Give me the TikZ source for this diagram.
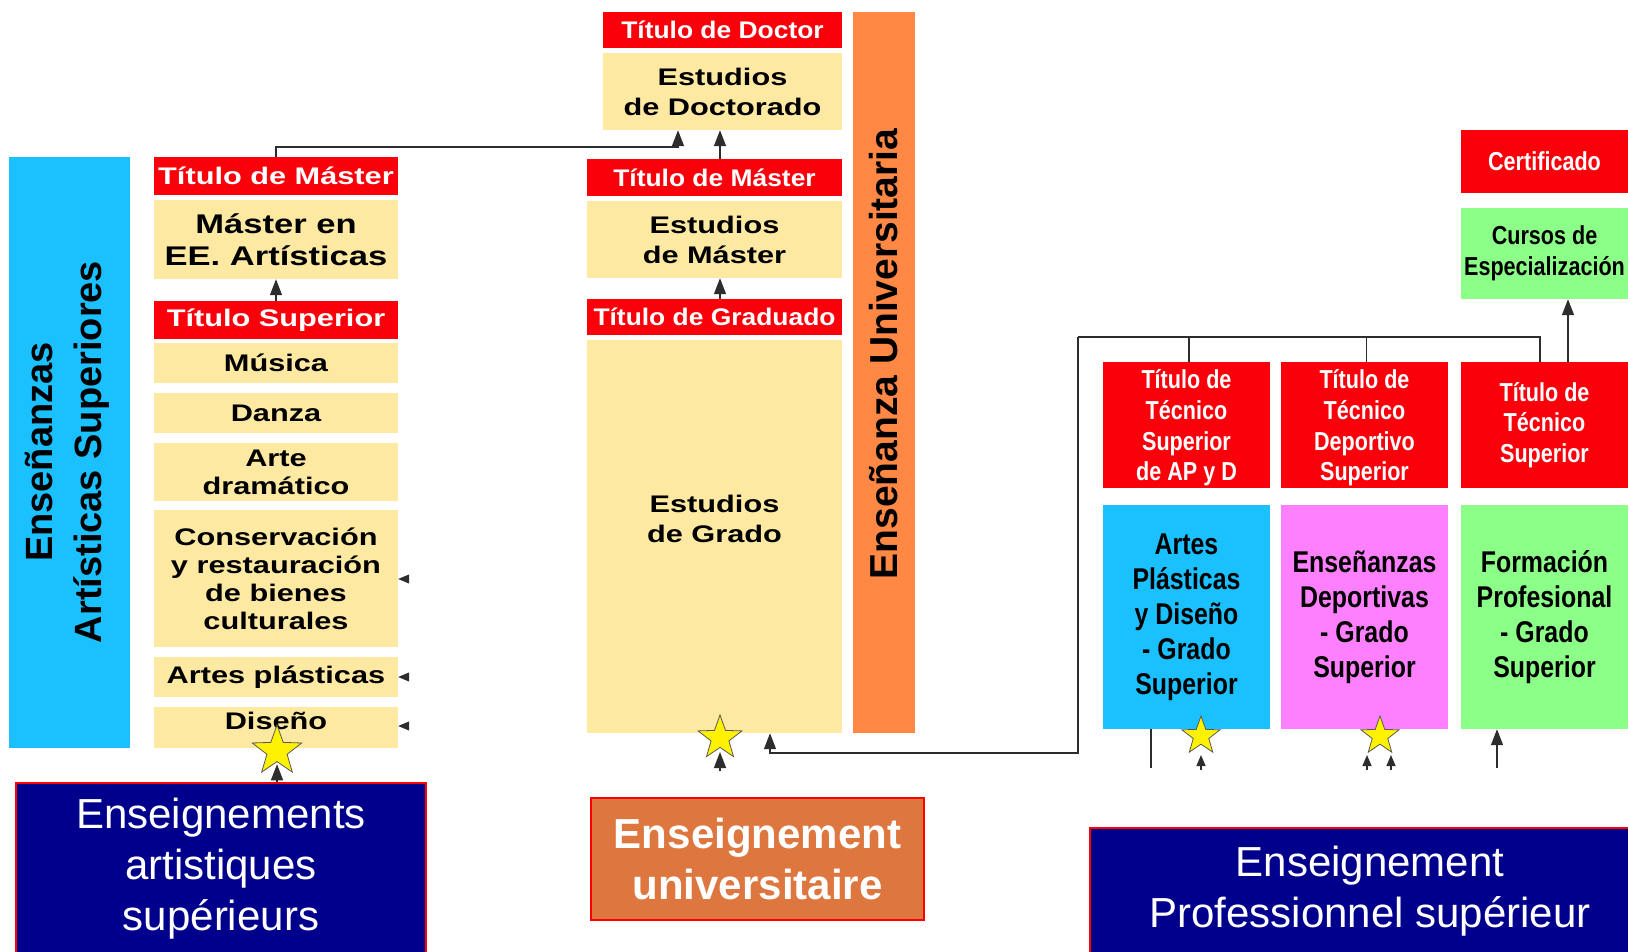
\documentclass[tikz,border=0pt]{standalone}
\usepackage{fontspec}
\setmainfont{Liberation Sans}
\newfontfamily\widef[FakeStretch=1.28]{Liberation Sans}
\newfontfamily\midf[FakeStretch=1.1]{Liberation Sans}
\newfontfamily\narf[FakeStretch=0.83]{Liberation Sans}
\usetikzlibrary{arrows.meta,shapes.geometric}
\definecolor{tred}{RGB}{250,0,10}
\definecolor{tyel}{RGB}{253,233,162}
\definecolor{tblue}{RGB}{27,193,255}
\definecolor{torange}{RGB}{255,136,68}
\definecolor{tpink}{RGB}{255,128,255}
\definecolor{tgreen}{RGB}{140,255,136}
\definecolor{tnavy}{RGB}{0,0,140}
\definecolor{tbrown}{RGB}{222,119,63}
\definecolor{tline}{RGB}{45,45,45}
\begin{document}
\begin{tikzpicture}[x=1pt,y=-1pt,
  boxbase/.style={rectangle, inner sep=0pt, align=center},
  redL/.style={boxbase, fill=tred, text=white, font={\widef\bfseries\fontsize{24}{28}\selectfont}},
  redM/.style={boxbase, fill=tred, text=white, font={\midf\bfseries\fontsize{24}{28}\selectfont}},
  yelL/.style={boxbase, fill=tyel, text=black, font={\widef\bfseries\fontsize{24}{28}\selectfont}},
  yelM/.style={boxbase, fill=tyel, text=black, font={\widef\bfseries\fontsize{24}{30}\selectfont}},
  redR/.style={boxbase, fill=tred, text=white, font={\narf\bfseries\fontsize{26}{30.7}\selectfont}},
  colR/.style={boxbase, text=black, font={\narf\bfseries\fontsize{30}{35}\selectfont}},
  vtext/.style={inner sep=0pt, align=center, rotate=90, font={\bfseries\fontsize{39}{48}\selectfont}},
  bigbox/.style={rectangle, inner sep=0pt, align=center, draw=red, line width=1.5pt, text=white},
  ystar/.style={star, star points=5, star point ratio=2.45, fill=yellow, draw=black!65, line width=0.8pt, minimum size=#1, inner sep=0pt},
  conn/.style={draw=tline, line width=1.4pt},
  arr/.style={-{Triangle[length=16pt,width=12pt]}},
  tip/.style={-{Triangle[length=11pt,width=9pt]}}
]
\useasboundingbox (0,0) rectangle (1628,951);
\fill[white] (0,0) rectangle (1628,951);

% ---------- left column ----------
\node[boxbase, fill=tblue, minimum width=121pt, minimum height=591pt] (blueL) at (69.5,452.5) {};
\node[vtext, font={\bfseries\fontsize{38}{49}\selectfont}] (blueT) at (67,452) {Enseñanzas\\Artísticas Superiores};

\node[redL, minimum width=244pt, minimum height=38pt] (lmt) at (276,176) {Título de Máster};
\node[yelL, font={\widef\bfseries\fontsize{27}{32}\selectfont}, minimum width=244pt, minimum height=79pt] (lme) at (276,239.5) {Máster en\\EE. Artísticas};
\node[redL, minimum width=244pt, minimum height=38pt] (lts) at (276,320) {Título Superior};
\node[yelL, minimum width=244pt, minimum height=40pt] (mus) at (276,363) {Música};
\node[yelL, minimum width=244pt, minimum height=40pt] (dan) at (276,413) {Danza};
\node[yelL, minimum width=244pt, minimum height=58pt] (arte) at (276,472) {Arte\\dramático};
\node[yelL, minimum width=244pt, minimum height=137pt] (cons) at (276,578.5) {Conservación\\y restauración\\de bienes\\culturales};
\node[yelL, minimum width=244pt, minimum height=40pt] (artp) at (276,677) {Artes plásticas};
\node[yelL, minimum width=244pt, minimum height=41pt] (dis) at (276,727.5) {\raisebox{13pt}{Diseño}};

\draw[conn, arr] (lts.north) -- (lme.south);

% small arrowheads at right of left column
\coordinate (ka) at (409,579);
\coordinate (kb) at (409,677);
\coordinate (kc) at (409,726);
\draw[conn, line width=0.8pt, tip] (ka) -- (ka -| cons.east);
\draw[conn, line width=0.8pt, tip] (kb) -- (kb -| artp.east);
\draw[conn, line width=0.8pt, tip] (kc) -- (kc -| dis.east);

% bottom-left box
\node[bigbox, fill=tnavy, minimum width=410pt, minimum height=172pt, font={\fontsize{42}{51}\selectfont}] (ensA) at (221,869) {Enseignements\\artistiques\\supérieurs};
\draw[conn, arr] ([xshift=56pt]ensA.north) -- ++(0,-18);
\node[ystar=52pt] (starA) at (277,751) {};

% ---------- middle column ----------
\node[redM, minimum width=239pt, minimum height=36pt] (tdoc) at (722.5,30) {Título de Doctor};
\node[yelM, minimum width=239pt, minimum height=77pt] (edoc) at (722.5,91.5) {Estudios\\de Doctorado};
\node[redM, minimum width=255pt, minimum height=37pt] (tmas) at (714.5,177.5) {Título de Máster};
\node[yelM, minimum width=255pt, minimum height=77pt] (emas) at (714.5,239.5) {Estudios\\de Máster};
\node[redM, minimum width=255pt, minimum height=36pt] (tgra) at (714.5,317) {Título de Graduado};
\node[boxbase, fill=tyel, minimum width=255pt, minimum height=393pt] (egra) at (714.5,536.5) {};
\node[yelM, fill=none] (egraT) at (714.5,519) {Estudios\\de Grado};

\node[boxbase, fill=torange, minimum width=62pt, minimum height=721pt] (ubar) at (884,372.5) {};
\node[vtext] (ubarT) at (884,354) {Enseñanza Universitaria};

\draw[conn, arr] ([xshift=5.5pt]tmas.north) -- ([xshift=5.5pt]tmas.north |- edoc.south);
\draw[conn, arr] ([xshift=5.5pt]tgra.north) -- ([xshift=5.5pt]tgra.north |- emas.south);
\draw[conn, arr] (lmt.north) -- ++(0,-10) -| ([xshift=-44.5pt]edoc.south);

\node[bigbox, fill=tbrown, minimum width=333pt, minimum height=122pt, font={\bfseries\fontsize{42}{51}\selectfont}] (ensU) at (757.5,859) {Enseignement\\universitaire};
\coordinate (sm) at (720,771);
\draw[conn, arr] (sm) -- ++(0,-19);
\node[ystar=46pt] (starM) at (720,738) {};

% ---------- right column ----------
\node[redR, minimum width=167pt, minimum height=63pt] (cert) at (1544.5,161.5) {Certificado};
\node[colR, fill=tgreen, font={\narf\bfseries\fontsize{26}{30.7}\selectfont}, minimum width=167pt, minimum height=91pt] (curs) at (1544.5,253.5) {Cursos de\\Especialización};

\node[redR, minimum width=167pt, minimum height=126pt] (tap) at (1186.5,425) {};
\node[redR, fill=none] (tapT) at (1186.5,428) {Título de\\Técnico\\Superior\\de AP y D};
\node[redR, minimum width=167pt, minimum height=126pt] (tdep) at (1364.5,425) {};
\node[redR, fill=none] (tdepT) at (1364.5,428) {Título de\\Técnico\\Deportivo\\Superior};
\node[redR, minimum width=167pt, minimum height=126pt] (tfp) at (1544.5,425) {Título de\\Técnico\\Superior};

\node[colR, fill=tblue, minimum width=167pt, minimum height=224pt] (cap) at (1186.5,617) {Artes\\Plásticas\\y Diseño\\- Grado\\Superior};
\node[colR, fill=tpink, minimum width=167pt, minimum height=224pt] (cdep) at (1364.5,617) {Enseñanzas\\Deportivas\\- Grado\\Superior};
\node[colR, fill=tgreen, minimum width=167pt, minimum height=224pt] (cfp) at (1544.5,617) {Formación\\Profesional\\- Grado\\Superior};

\coordinate (jn) at (1078,337);
\coordinate (jb) at (1078,753);
\draw[conn] ([xshift=-4.5pt]tfp.north) |- (jn);
\draw[conn] ([xshift=2.5pt]tap.north) -- ([xshift=2.5pt]tap.north |- jn);
\draw[conn] ([xshift=2pt]tdep.north) -- ([xshift=2pt]tdep.north |- jn);
\draw[conn, arr] (jn) -- (jb) -| ([xshift=55.5pt]egra.south);
\draw[conn, arr] ([xshift=23.5pt]tfp.north) -- ([xshift=23.5pt]curs.south);

\coordinate (apl) at (1151,768);
\draw[conn] (apl) -- (apl |- cap.south);
\coordinate (fpin) at (1497,768);
\draw[conn, arr] (fpin) -- (fpin |- cfp.south);

\coordinate (ta) at (1201,770);
\coordinate (tb) at (1367,770);
\coordinate (tc) at (1391,770);
\draw[conn, tip] (ta) -- ++(0,-15);
\draw[conn, tip] (tb) -- ++(0,-15);
\draw[conn, tip] (tc) -- ++(0,-15);
\node[ystar=40pt] (starAP) at (1201,736) {};
\node[ystar=40pt] (starDep) at (1380,736) {};

\node[bigbox, fill=tnavy, minimum width=560pt, minimum height=127pt, font={\fontsize{42}{51}\selectfont}] (ensP) at (1370,891.5) {Enseignement\\Professionnel supérieur};
\end{tikzpicture}
\end{document}
